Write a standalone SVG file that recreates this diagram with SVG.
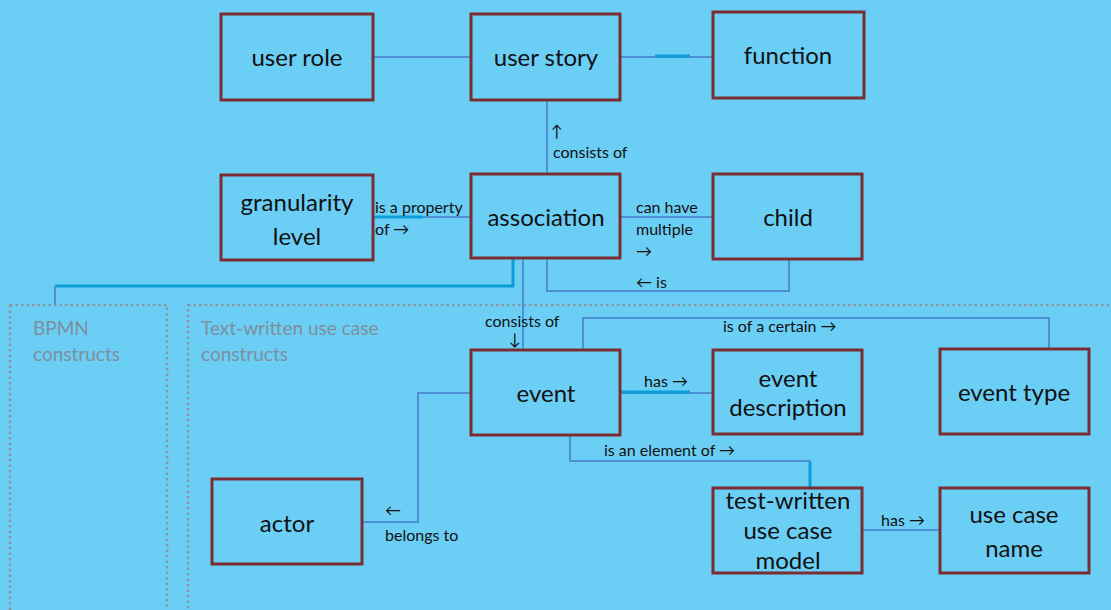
<svg xmlns="http://www.w3.org/2000/svg" width="1111" height="610" viewBox="0 0 1111 610">
  <defs>
    <style>
      .bg { fill: #6BCEF5; }
      .node rect { fill: #6BCEF5; stroke: #7A2E32; stroke-width: 3; }
      .node text { font-family: Lato, "Open Sans", sans-serif; font-size: 24px; fill: #111; text-anchor: middle; }
      .line { fill: none; stroke: #4F8FD3; stroke-width: 2; }
      .thick { fill: none; stroke: #0A9ED8; stroke-width: 3; }
      .lbl { font-family: Lato, "Open Sans", sans-serif; font-size: 16px; fill: #111; }
      .zone { fill: none; stroke: #8A96A2; stroke-width: 2.5; stroke-dasharray: 2.5 3; }
      .zlbl { font-family: Lato, "Open Sans", sans-serif; font-size: 19px; fill: #7E8E9E; }
    </style>
  </defs>

  <rect class="bg" x="0" y="0" width="1111" height="610"/>

  <!-- dotted construct regions -->
  <g id="regions">
    <rect class="zone" x="10" y="305" width="157" height="320"/>
    <text class="zlbl" x="33" y="335">BPMN</text>
    <text class="zlbl" x="33" y="361">constructs</text>
    <rect class="zone" x="188" y="305" width="940" height="320"/>
    <text class="zlbl" x="201" y="335">Text-written use case</text>
    <text class="zlbl" x="201" y="361">constructs</text>
  </g>

  <!-- connectors -->
  <g id="connectors">
    <path class="line" d="M373 57 H471"/>
    <path class="line" d="M620 57 H713"/>
    <path class="thick" d="M655 56 H690"/>
    <path class="line" d="M547 100 V173"/>
    <path class="line" d="M373 217 H471"/>
    <path class="thick" d="M375 217 H423"/>
    <path class="line" d="M620 217 H713"/>
    <path class="line" d="M547 258 V291 H789 V260"/>
    <path class="thick" d="M513 258 V286 H55"/>
    <path class="line" d="M55 286 V305"/>
    <path class="line" d="M523 258 V349"/>
    <path class="line" d="M583 349 V318 H1049 V348"/>
    <path class="line" d="M620 393 H713"/>
    <path class="thick" d="M621 392 H690"/>
    <path class="line" d="M570 435 V461 H810 V487"/>
    <path class="thick" d="M810 462 V487"/>
    <path class="line" d="M471 393 H418 V522 H362"/>
    <path class="line" d="M862 530 H939"/>

    <text class="lbl" x="551" y="137">↑</text>
    <text class="lbl" x="553" y="158">consists of</text>
    <text class="lbl" x="375" y="213">is a property</text>
    <text class="lbl" x="375" y="235">of →</text>
    <text class="lbl" x="636" y="213">can have</text>
    <text class="lbl" x="636" y="235">multiple</text>
    <text class="lbl" x="636" y="257">→</text>
    <text class="lbl" x="636" y="288">← is</text>
    <text class="lbl" x="485" y="327">consists of</text>
    <text class="lbl" x="509" y="345">↓</text>
    <text class="lbl" x="723" y="332">is of a certain  →</text>
    <text class="lbl" x="644" y="387">has →</text>
    <text class="lbl" x="604" y="456">is an element of →</text>
    <text class="lbl" x="385" y="516">←</text>
    <text class="lbl" x="385" y="541">belongs to</text>
    <text class="lbl" x="881" y="526">has →</text>
  </g>

  <!-- nodes -->
  <g id="user-role" class="node">
    <rect x="221" y="14" width="152" height="86"/>
    <text x="297" y="66">user role</text>
  </g>
  <g id="user-story" class="node">
    <rect x="471" y="14" width="149" height="86"/>
    <text x="546" y="66">user story</text>
  </g>
  <g id="function" class="node">
    <rect x="713" y="12" width="151" height="86"/>
    <text x="788" y="64">function</text>
  </g>
  <g id="granularity-level" class="node">
    <rect x="221" y="175" width="152" height="85"/>
    <text x="297" y="211">granularity</text>
    <text x="297" y="245">level</text>
  </g>
  <g id="association" class="node">
    <rect x="471" y="174" width="149" height="84"/>
    <text x="546" y="226">association</text>
  </g>
  <g id="child" class="node">
    <rect x="713" y="174" width="149" height="85"/>
    <text x="788" y="226">child</text>
  </g>
  <g id="event" class="node">
    <rect x="471" y="350" width="149" height="85"/>
    <text x="546" y="402">event</text>
  </g>
  <g id="event-description" class="node">
    <rect x="713" y="350" width="149" height="84"/>
    <text x="788" y="387">event</text>
    <text x="788" y="416">description</text>
  </g>
  <g id="event-type" class="node">
    <rect x="940" y="349" width="149" height="85"/>
    <text x="1014" y="401">event type</text>
  </g>
  <g id="actor" class="node">
    <rect x="212" y="479" width="150" height="85"/>
    <text x="287" y="532">actor</text>
  </g>
  <g id="text-written-use-case-model" class="node">
    <rect x="713" y="488" width="149" height="85"/>
    <text x="788" y="509">test-written</text>
    <text x="788" y="539">use case</text>
    <text x="788" y="569">model</text>
  </g>
  <g id="use-case-name" class="node">
    <rect x="940" y="488" width="149" height="85"/>
    <text x="1014" y="523">use case</text>
    <text x="1014" y="557">name</text>
  </g>
</svg>
